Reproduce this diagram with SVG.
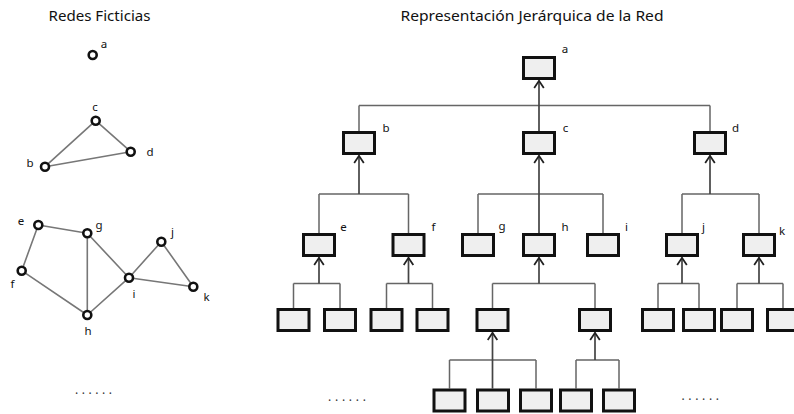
<svg xmlns="http://www.w3.org/2000/svg" width="794" height="414" viewBox="0 0 794 414">
<defs>
<style>
.title{font-family:"Noto Sans","Open Sans","Liberation Sans",sans-serif;font-size:14px;fill:#111;}
.lbl{font-family:"Noto Sans","Open Sans","Liberation Sans",sans-serif;font-size:11.5px;fill:#111;text-anchor:middle;}
.dots{font-family:"Noto Sans","Liberation Sans",sans-serif;font-size:12px;fill:#333;}
.nd{fill:#fff;stroke:#111;stroke-width:2.6;}
.edge{stroke:#777;stroke-width:1.6;fill:none;stroke-linecap:round;}
.box{fill:#efefef;stroke:#111;stroke-width:3;}
.con{stroke:#666;stroke-width:1.5;fill:none;}
.arr{stroke:#444;stroke-width:1.7;fill:none;marker-end:url(#chev);}
</style>
<marker id="chev" viewBox="0 0 10 12" refX="8.5" refY="6" markerWidth="10" markerHeight="12" markerUnits="userSpaceOnUse" orient="auto">
<path d="M1,1.2 L8.2,6 L1,10.8" fill="none" stroke="#222" stroke-width="1.8"/>
</marker>
</defs>
<rect width="794" height="414" fill="#fff"/>

<text class="title" x="48.5" y="20.5" textLength="102" lengthAdjust="spacingAndGlyphs">Redes Ficticias</text>
<text class="title" x="400.5" y="20.5" textLength="263" lengthAdjust="spacingAndGlyphs">Representación Jerárquica de la Red</text>

<!-- Left graph edges -->
<g id="graph-edges">
<line class="edge" x1="45" y1="166.7" x2="95.7" y2="120.7"/>
<line class="edge" x1="95.7" y1="120.7" x2="130.7" y2="151.7"/>
<line class="edge" x1="45" y1="166.7" x2="130.7" y2="151.7"/>
<line class="edge" x1="38.3" y1="225" x2="87.3" y2="233.3"/>
<line class="edge" x1="38.3" y1="225" x2="21.7" y2="270.7"/>
<line class="edge" x1="21.7" y1="270.7" x2="87.3" y2="315"/>
<line class="edge" x1="87.3" y1="233.3" x2="87.3" y2="315"/>
<line class="edge" x1="87.3" y1="233.3" x2="129" y2="277.7"/>
<line class="edge" x1="87.3" y1="315" x2="129" y2="277.7"/>
<line class="edge" x1="129" y1="277.7" x2="161.3" y2="241.7"/>
<line class="edge" x1="161.3" y1="241.7" x2="193.3" y2="286.7"/>
<line class="edge" x1="129" y1="277.7" x2="193.3" y2="286.7"/>
</g>
<g id="g-a"><circle class="nd" cx="92.7" cy="55" r="4"/><text class="lbl" x="104" y="48">a</text></g>
<g id="g-b"><circle class="nd" cx="45" cy="166.7" r="4"/><text class="lbl" x="30" y="167">b</text></g>
<g id="g-c"><circle class="nd" cx="95.7" cy="120.7" r="4"/><text class="lbl" x="95" y="111">c</text></g>
<g id="g-d"><circle class="nd" cx="130.7" cy="151.7" r="4"/><text class="lbl" x="150" y="156">d</text></g>
<g id="g-e"><circle class="nd" cx="38.3" cy="225" r="4"/><text class="lbl" x="21" y="224.5">e</text></g>
<g id="g-f"><circle class="nd" cx="21.7" cy="270.7" r="4"/><text class="lbl" x="12.5" y="288">f</text></g>
<g id="g-g"><circle class="nd" cx="87.3" cy="233.3" r="4"/><text class="lbl" x="99" y="229">g</text></g>
<g id="g-h"><circle class="nd" cx="87.3" cy="315" r="4"/><text class="lbl" x="88" y="335">h</text></g>
<g id="g-i"><circle class="nd" cx="129" cy="277.7" r="4"/><text class="lbl" x="134" y="298">i</text></g>
<g id="g-j"><circle class="nd" cx="161.3" cy="241.7" r="4"/><text class="lbl" x="172.5" y="235.5">j</text></g>
<g id="g-k"><circle class="nd" cx="193.3" cy="286.7" r="4"/><text class="lbl" x="206.5" y="301">k</text></g>

<!-- Tree connectors -->
<g id="connectors">
<path class="con" d="M359,105.5 H710 M359,105.5 V131 M710,105.5 V131"/>
<path class="arr" d="M539,131 V80.5"/>
<path class="con" d="M319,194 H408.5 M319,194 V233 M408.5,194 V233"/>
<path class="arr" d="M359,194 V155.5"/>
<path class="con" d="M478,194 H603 M478,194 V233 M603,194 V233"/>
<path class="arr" d="M539,233 V155.5"/>
<path class="con" d="M682,194 H759 M682,194 V233 M759,194 V233"/>
<path class="arr" d="M710,194 V155.5"/>
<path class="con" d="M293.5,283.5 H340 M293.5,283.5 V308 M340,283.5 V308"/>
<path class="arr" d="M319,283.5 V257.5"/>
<path class="con" d="M386.5,283.5 H432.5 M386.5,283.5 V308 M432.5,283.5 V308"/>
<path class="arr" d="M408.5,283.5 V257.5"/>
<path class="con" d="M492.5,283.5 H595 M492.5,283.5 V308 M595,283.5 V308"/>
<path class="arr" d="M539,283.5 V257.5"/>
<path class="con" d="M658,283.5 H699 M658,283.5 V308 M699,283.5 V308"/>
<path class="arr" d="M682,283.5 V257.5"/>
<path class="con" d="M737,283.5 H783 M737,283.5 V308 M783,283.5 V308"/>
<path class="arr" d="M759,283.5 V257.5"/>
<path class="con" d="M449.5,360 H536 M449.5,360 V388.5 M536,360 V388.5"/>
<path class="arr" d="M492.5,388.5 V332.5"/>
<path class="con" d="M576,360 H619 M576,360 V388.5 M619,360 V388.5"/>
<path class="arr" d="M595,360 V332.5"/>
</g>

<!-- Tree nodes -->
<g id="t-a"><rect class="box" x="523.5" y="57.5" width="31" height="21"/><text class="lbl" x="565" y="53">a</text></g>
<g id="t-b"><rect class="box" x="343.5" y="132.5" width="31" height="21"/><text class="lbl" x="386" y="132">b</text></g>
<g id="t-c"><rect class="box" x="523.5" y="132.5" width="31" height="21"/><text class="lbl" x="565.5" y="132">c</text></g>
<g id="t-d"><rect class="box" x="694.5" y="132.5" width="31" height="21"/><text class="lbl" x="735.5" y="132">d</text></g>
<g id="t-e"><rect class="box" x="303.5" y="234.5" width="31" height="21"/><text class="lbl" x="343.5" y="231">e</text></g>
<g id="t-f"><rect class="box" x="393" y="234.5" width="31" height="21"/><text class="lbl" x="433.5" y="231">f</text></g>
<g id="t-g"><rect class="box" x="462.5" y="234.5" width="31" height="21"/><text class="lbl" x="502" y="230">g</text></g>
<g id="t-h"><rect class="box" x="523.5" y="234.5" width="31" height="21"/><text class="lbl" x="565" y="231">h</text></g>
<g id="t-i"><rect class="box" x="587.5" y="234.5" width="31" height="21"/><text class="lbl" x="626.5" y="231">i</text></g>
<g id="t-j"><rect class="box" x="666.5" y="234.5" width="31" height="21"/><text class="lbl" x="703.5" y="231">j</text></g>
<g id="t-k"><rect class="box" x="743.5" y="234.5" width="31" height="21"/><text class="lbl" x="782" y="235">k</text></g>

<g id="t-e1"><rect class="box" x="278" y="309.5" width="31" height="21"/></g>
<g id="t-e2"><rect class="box" x="324.5" y="309.5" width="31" height="21"/></g>
<g id="t-f1"><rect class="box" x="371" y="309.5" width="31" height="21"/></g>
<g id="t-f2"><rect class="box" x="417" y="309.5" width="31" height="21"/></g>
<g id="t-h1"><rect class="box" x="477" y="309.5" width="31" height="21"/></g>
<g id="t-h2"><rect class="box" x="579.5" y="309.5" width="31" height="21"/></g>
<g id="t-j1"><rect class="box" x="642.5" y="309.5" width="31" height="21"/></g>
<g id="t-j2"><rect class="box" x="683.5" y="309.5" width="31" height="21"/></g>
<g id="t-k1"><rect class="box" x="721.5" y="309.5" width="31" height="21"/></g>
<g id="t-k2"><rect class="box" x="767.5" y="309.5" width="31" height="21"/></g>

<g id="t-h1a"><rect class="box" x="434" y="390" width="31" height="21"/></g>
<g id="t-h1b"><rect class="box" x="477.5" y="390" width="31" height="21"/></g>
<g id="t-h1c"><rect class="box" x="520.5" y="390" width="31" height="21"/></g>
<g id="t-h2a"><rect class="box" x="560.5" y="390" width="31" height="21"/></g>
<g id="t-h2b"><rect class="box" x="603.5" y="390" width="31" height="21"/></g>

<text class="dots" x="75" y="393.5" textLength="37" lengthAdjust="spacing">......</text>
<text class="dots" x="328" y="400.5" textLength="38" lengthAdjust="spacing">......</text>
<text class="dots" x="681.5" y="399.5" textLength="37.5" lengthAdjust="spacing">......</text>
</svg>
